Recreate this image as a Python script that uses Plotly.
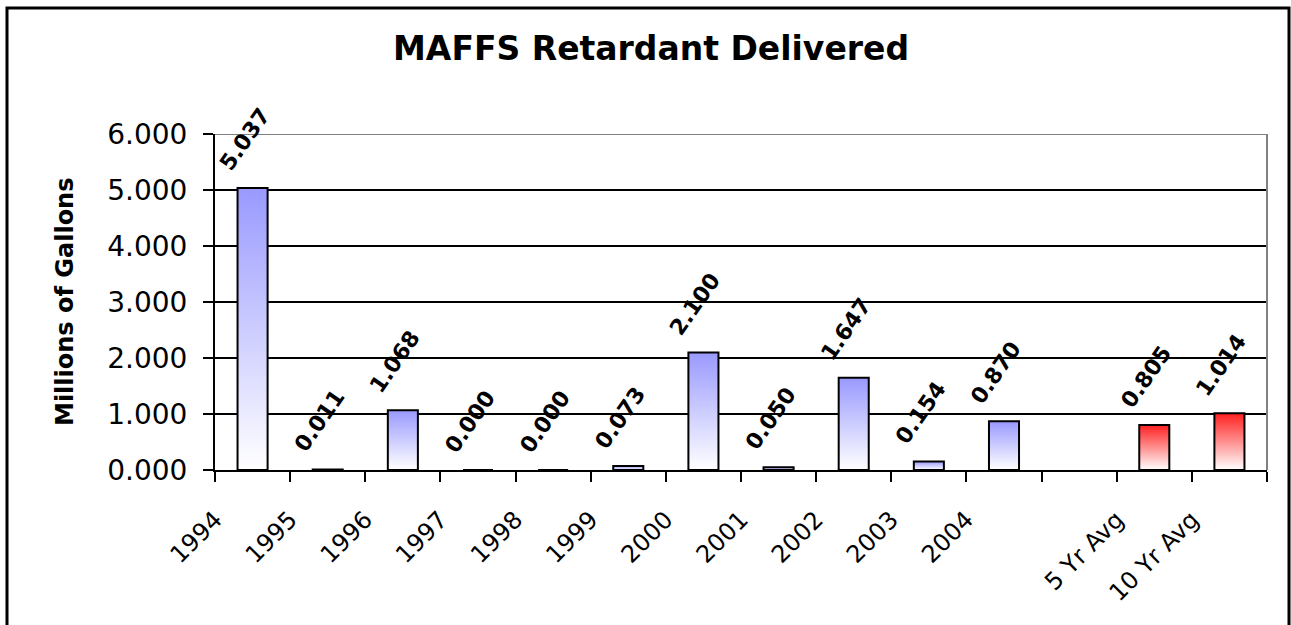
import plotly.graph_objects as go

# MAFFS retardant delivered, millions of gallons
categories = ["1994", "1995", "1996", "1997", "1998", "1999", "2000",
              "2001", "2002", "2003", "2004", "", "5 Yr Avg", "10 Yr Avg"]
gallons = [5.037, 0.011, 1.068, 0.000, 0.000, 0.073, 2.100,
           0.050, 1.647, 0.154, 0.870, None, 0.805, 1.014]
is_average = [False] * 12 + [True, True]

blue_scale = [[0, "#ffffff"], [1, "#9999ff"]]
red_scale = [[0, "#ffffff"], [1, "#ff2020"]]
bar_half = 0.2
font_family = "DejaVu Sans, Liberation Sans, Arial, sans-serif"

# plot area in pixels, used to place the border / titles
L, R, T, B = 215, 1267, 134, 470
W, H = R - L, B - T

fig = go.Figure()

for i, (v, avg) in enumerate(zip(gallons, is_average)):
    if v is None:
        continue
    c = i + 0.5
    fig.add_trace(go.Scatter(
        x=[c - bar_half, c - bar_half, c + bar_half, c + bar_half, c - bar_half],
        y=[0, v, v, 0, 0],
        mode="lines", fill="toself",
        fillgradient=dict(type="vertical", colorscale=red_scale if avg else blue_scale),
        line=dict(color="black", width=2),
        hoverinfo="skip", showlegend=False))
    fig.add_annotation(x=c, y=v, text="<b>%.3f</b>" % v, showarrow=False,
                       textangle=-55, xanchor="center", yanchor="bottom",
                       xshift=-8, yshift=10,
                       font=dict(family=font_family, size=22, color="black"))

# title
fig.add_annotation(text="<b>MAFFS Retardant Delivered</b>", xref="paper", yref="paper",
                   x=(651 - L) / W, y=(B - 48) / H, showarrow=False,
                   xanchor="center", yanchor="middle",
                   font=dict(family=font_family, size=33, color="black"))
# y axis title
fig.add_annotation(text="<b>Millions of Gallons</b>", xref="paper", yref="paper",
                   x=(65 - L) / W, y=0.5, showarrow=False, textangle=-90,
                   xanchor="center", yanchor="middle",
                   font=dict(family=font_family, size=24, color="black"))

# gray plot-area edges (top and right) and outer chart border
fig.add_shape(type="line", xref="paper", yref="y", x0=0, x1=1, y0=6, y1=6,
              line=dict(color="#808080", width=2))
fig.add_shape(type="line", xref="paper", yref="y", x0=1, x1=1, y0=0, y1=6,
              line=dict(color="#808080", width=2))
fig.add_shape(type="rect", xref="paper", yref="paper",
              x0=(7 - L) / W, x1=(1289 - L) / W,
              y0=(B - 660) / H, y1=(B - 8) / H,
              line=dict(color="black", width=3))

fig.update_layout(
    width=1291, height=625,
    margin=dict(l=L, r=1291 - R, t=T, b=625 - B),
    paper_bgcolor="white", plot_bgcolor="white",
    font=dict(family=font_family, color="black"),
    xaxis=dict(range=[0, 14], tickvals=list(range(15)),
               ticktext=categories + [""], tickangle=-45,
               tickfont=dict(size=24), ticklabelstandoff=14,
               showgrid=False, zeroline=False,
               showline=True, linecolor="black", linewidth=2,
               ticks="outside", ticklen=10, tickwidth=2, tickcolor="black"),
    yaxis=dict(range=[0, 6], tickvals=[0, 1, 2, 3, 4, 5, 6], tickformat=".3f",
               tickfont=dict(size=28), ticklabelstandoff=10,
               showgrid=True, gridcolor="black", gridwidth=1.5,
               zeroline=False, showline=True, linecolor="black", linewidth=2,
               ticks="outside", ticklen=10, tickwidth=2, tickcolor="black"),
)

fig.write_html("out.html", config={"displayModeBar": False},
               post_script="document.body.style.margin='0';")
